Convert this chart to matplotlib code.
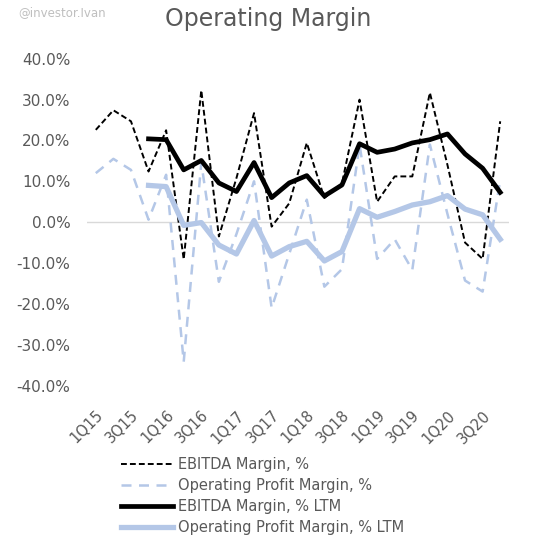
import numpy as np
import matplotlib.pyplot as plt
from matplotlib.ticker import FuncFormatter

quarters = ['1Q15', '2Q15', '3Q15', '4Q15', '1Q16', '2Q16', '3Q16', '4Q16',
            '1Q17', '2Q17', '3Q17', '4Q17', '1Q18', '2Q18', '3Q18', '4Q18',
            '1Q19', '2Q19', '3Q19', '4Q19', '1Q20', '2Q20', '3Q20', '4Q20']

ebitda = [22.6, 27.4, 24.7, 12.4, 22.5, -9.1, 32.3, -3.5, 10.8, 26.7, -1.1, 4.6,
          19.4, 5.9, 9.5, 30.0, 5.0, 11.2, 11.2, 31.7, 14.0, -5.0, -9.0, 24.7]
opm = [12.0, 15.5, 12.8, 0.6, 11.6, -34.2, 14.5, -14.6, -2.9, 10.0, -21.0, -7.8,
       5.5, -15.8, -11.5, 19.0, -9.0, -4.2, -11.7, 19.0, 2.0, -14.3, -17.0, 10.4]
ebitda_ltm = [np.nan, np.nan, np.nan, 20.4, 20.2, 12.8, 15.1, 9.6, 7.5, 14.6, 6.0, 9.6,
              11.4, 6.4, 9.1, 19.2, 17.1, 17.9, 19.4, 20.2, 21.6, 16.7, 13.2, 7.3]
opm_ltm = [np.nan, np.nan, np.nan, 9.0, 8.7, -0.8, -0.1, -5.6, -7.8, 0.4, -8.3, -6.0,
           -4.7, -9.5, -7.2, 3.3, 1.2, 2.6, 4.2, 5.0, 6.5, 3.2, 1.8, -4.2]

grey = '#595959'
blue = '#b4c7e7'

fig = plt.figure(figsize=(5.37, 5.37), dpi=100)
ax = fig.add_axes([87/537, 1-385.5/537, (509-87)/537, (385.5-58.8)/537])

x = np.arange(len(quarters))
ax.axhline(0, color='#d9d9d9', lw=1, zorder=1)
ax.plot(x, ebitda, color='black', lw=1.4, dashes=(3, 1.6), label='EBITDA Margin, %')
ax.plot(x, opm, color=blue, lw=1.8, dashes=(4, 3), label='Operating Profit Margin, %')
ax.plot(x, ebitda_ltm, color='black', lw=3.4, label='EBITDA Margin, % LTM')
ax.plot(x, opm_ltm, color=blue, lw=3.8, label='Operating Profit Margin, % LTM')

ax.set_xlim(-0.5, 23.5)
ax.set_ylim(-40, 40)
ax.set_yticks(np.arange(-40, 41, 10))
ax.yaxis.set_major_formatter(FuncFormatter(lambda v, p: f'{v:.1f}%'))
ax.set_xticks(x[::2])
ax.set_xticklabels(quarters[::2], rotation=45, ha='right', rotation_mode='anchor')
ax.tick_params(axis='both', length=0, colors=grey, labelsize=10.5)
ax.tick_params(axis='y', labelsize=11, pad=12)
ax.tick_params(axis='x', pad=16)
for s in ax.spines.values():
    s.set_visible(False)

fig.text(0.5, 0.965, 'Operating Margin', ha='center', va='center', fontsize=17, color=grey)
fig.text(0.034, 0.977, '@investor.Ivan', ha='left', va='center', fontsize=8.5, color='#bfbfbf')

fig.legend(loc='upper left', bbox_to_anchor=(115/537, 1-451/537), frameon=False,
           fontsize=10.5, labelcolor=grey, handlelength=3.6, handletextpad=0.3,
           labelspacing=0.42, borderaxespad=0)

fig.savefig('out.png', dpi=100)
